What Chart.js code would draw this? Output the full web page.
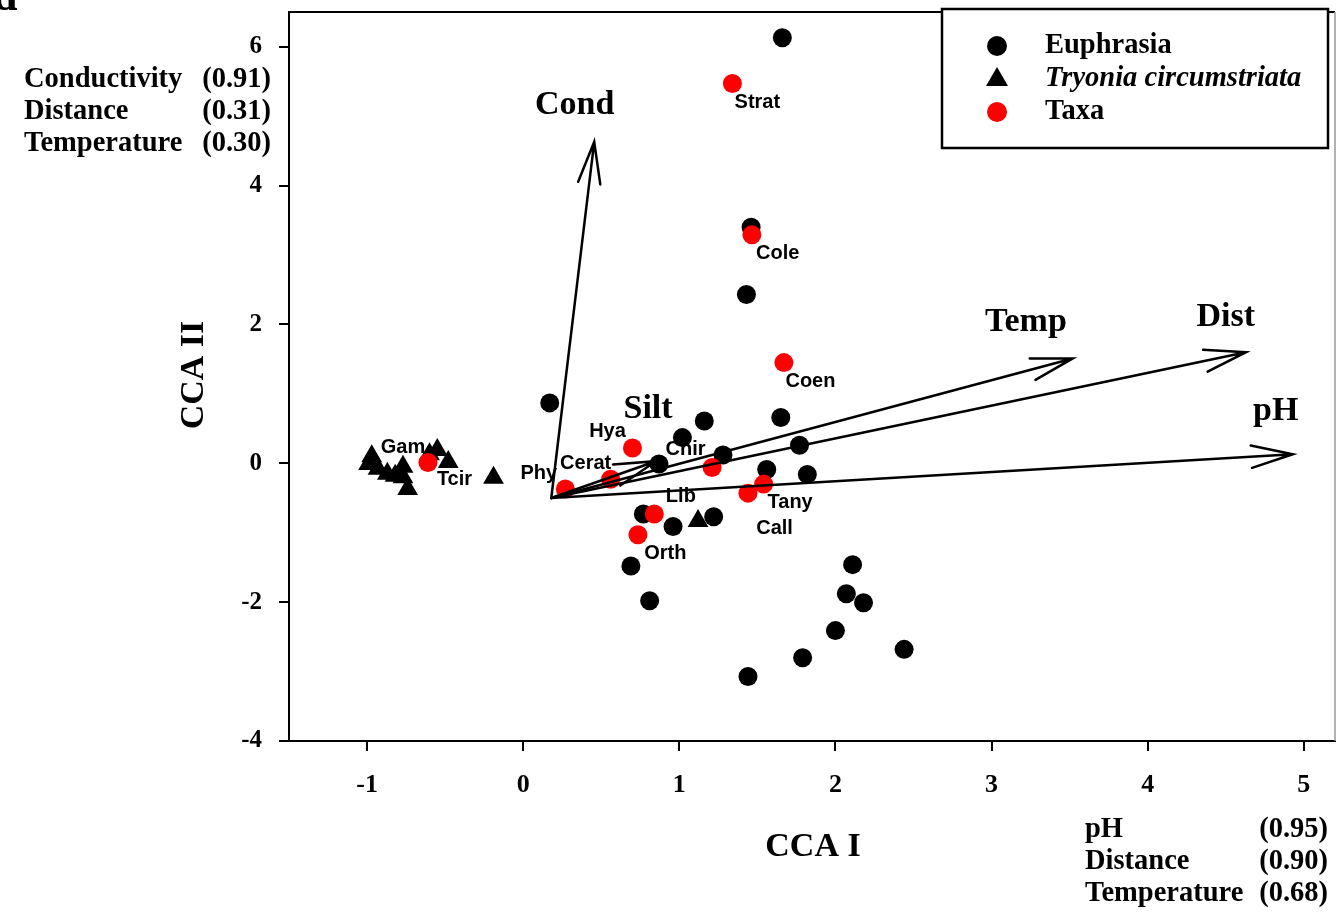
<!DOCTYPE html>
<html>
<head>
<meta charset="utf-8">
<script src="https://cdn.jsdelivr.net/npm/chart.js@4.4.1/dist/chart.umd.min.js"></script>
<style>
  html, body { margin: 0; padding: 0; background: #fff; }
  #wrap { width: 1337px; height: 914px; }
</style>
</head>
<body>
<div id="wrap"><canvas id="chart" width="1337" height="914"></canvas></div>
<script>
// site scores, Euphrasia
const euphrasiaX = [1.66, 1.46, 1.43, 0.17, 1.16, 1.65, 1.02, 1.77, 0.87, 1.28, 1.56, 1.82,
  0.77, 0.96, 1.22, 0.69, 0.81, 2.11, 2.07, 2.18, 2.00, 2.44, 1.79, 1.44];
const euphrasiaY = [6.13, 3.40, 2.43, 0.87, 0.61, 0.66, 0.37, 0.26, -0.01, 0.12, -0.09, -0.16,
  -0.73, -0.91, -0.77, -1.48, -1.98, -1.46, -1.88, -2.01, -2.41, -2.68, -2.80, -3.07];

// site scores, Tryonia circumstriata
const tryoniaX = [-0.97, -0.99, -0.93, -0.87, -0.82, -0.77, -0.77, -0.74, -0.55, -0.60, -0.48, -0.19, 1.12];
const tryoniaY = [0.10, -0.01, -0.08, -0.15, -0.18, -0.05, -0.20, -0.37, 0.19, 0.13, 0.02, -0.21, -0.83];

// taxa scores
const taxaX = [1.34, 1.465, 1.67, 0.70, 1.21, 0.56, 0.27, 0.84, 1.54, 1.44, 0.735, -0.61];
const taxaY = [5.47, 3.29, 1.45, 0.22, -0.06, -0.23, -0.37, -0.73, -0.30, -0.43, -1.03, 0.01];

// taxa name labels
const taxaLabelText = ['Strat', 'Cole', 'Coen', 'Hya', 'Chir', 'Cerat', 'Phy', 'Lib', 'Tany', 'Call', 'Orth', 'Gam', 'Tcir'];
const taxaLabelX = [1.50, 1.63, 1.84, 0.54, 1.04, 0.40, 0.10, 1.01, 1.71, 1.61, 0.91, -0.77, -0.44];
const taxaLabelY = [5.20, 3.02, 1.18, 0.46, 0.20, 0.00, -0.14, -0.48, -0.57, -0.94, -1.30, 0.23, -0.23];

// environmental vectors
const arrowOrigin = [0.18, -0.50];
const envNames = ['Cond', 'Temp', 'Dist', 'pH', 'Silt'];
const envX = [0.455, 3.52, 4.63, 4.93, 0.85];
const envY = [4.63, 1.51, 1.60, 0.13, 0.03];
const envLabelX = [0.33, 3.22, 4.50, 4.82, 0.80];
const envLabelY = [5.16, 2.03, 2.10, 0.75, 0.78];

// axes
const xTicks = [-1, 0, 1, 2, 3, 4, 5];
const yTicks = [-4, -2, 0, 2, 4, 6];

// axis correlations
const axis2Vars = ['Conductivity', 'Distance', 'Temperature'];
const axis2Vals = ['(0.91)', '(0.31)', '(0.30)'];
const axis1Vars = ['pH', 'Distance', 'Temperature'];
const axis1Vals = ['(0.95)', '(0.90)', '(0.68)'];

const serif = '"Liberation Serif", "Times New Roman", serif';
const sans = '"Liberation Sans", Arial, sans-serif';

const PLOT_RIGHT = 1335;

const toPoints = (xs, ys) => xs.map((x, i) => ({ x: x, y: ys[i] }));

const overlay = {
  id: 'overlay',
  afterLayout(chart) {
    // stretch the plot to the right edge of the frame
    const area = chart.chartArea;
    area.right = PLOT_RIGHT;
    area.width = area.right - area.left;
    const xs = chart.scales.x;
    xs.right = PLOT_RIGHT;
    xs.width = xs.right - xs.left;
    xs.configure();
  },
  afterDatasetsDraw(chart) {
    const ctx = chart.ctx;
    const xs = chart.scales.x, ys = chart.scales.y;
    ctx.save();
    // vectors
    ctx.strokeStyle = '#000';
    ctx.lineWidth = 2.5;
    ctx.lineCap = 'round';
    const ox = xs.getPixelForValue(arrowOrigin[0]);
    const oy = ys.getPixelForValue(arrowOrigin[1]);
    envNames.forEach((n, i) => {
      const tx = xs.getPixelForValue(envX[i]);
      const ty = ys.getPixelForValue(envY[i]);
      const ang = Math.atan2(ty - oy, tx - ox);
      const L = 43, h = 15 * Math.PI / 180;
      ctx.beginPath();
      ctx.moveTo(ox, oy);
      ctx.lineTo(tx, ty);
      ctx.moveTo(tx - L * Math.cos(ang + h), ty - L * Math.sin(ang + h));
      ctx.lineTo(tx, ty);
      ctx.lineTo(tx - L * Math.cos(ang - h), ty - L * Math.sin(ang - h));
      ctx.stroke();
    });
    ctx.fillStyle = '#000';
    ctx.textAlign = 'center';
    ctx.textBaseline = 'middle';
    ctx.font = 'bold 34px ' + serif;
    envNames.forEach((n, i) => {
      ctx.fillText(n, xs.getPixelForValue(envLabelX[i]), ys.getPixelForValue(envLabelY[i]));
    });
    ctx.font = 'bold 20px ' + sans;
    taxaLabelText.forEach((t, i) => {
      ctx.fillText(t, xs.getPixelForValue(taxaLabelX[i]), ys.getPixelForValue(taxaLabelY[i]));
    });
    ctx.restore();
  },
  afterDraw(chart) {
    const ctx = chart.ctx;
    const a = chart.chartArea;
    ctx.save();
    // frame top and right
    ctx.strokeStyle = '#000';
    ctx.lineWidth = 2;
    ctx.beginPath();
    ctx.moveTo(a.left, a.top);
    ctx.lineTo(a.right, a.top);
    ctx.moveTo(a.left, a.bottom);
    ctx.lineTo(a.right, a.bottom);
    ctx.stroke();
    ctx.strokeStyle = '#999';
    ctx.lineWidth = 1.5;
    ctx.beginPath();
    ctx.moveTo(a.right, a.top);
    ctx.lineTo(a.right, a.bottom);
    ctx.stroke();

    // legend
    ctx.fillStyle = '#fff';
    ctx.fillRect(942, 9, 386, 139);
    ctx.strokeStyle = '#000';
    ctx.lineWidth = 2.5;
    ctx.strokeRect(942, 9, 386, 139);
    ctx.fillStyle = '#000';
    ctx.beginPath(); ctx.arc(997, 46, 10, 0, Math.PI * 2); ctx.fill();
    ctx.beginPath();
    ctx.moveTo(997, 67); ctx.lineTo(1008, 86); ctx.lineTo(986, 86); ctx.closePath(); ctx.fill();
    ctx.fillStyle = '#ff0000';
    ctx.beginPath(); ctx.arc(997, 112, 10, 0, Math.PI * 2); ctx.fill();
    ctx.fillStyle = '#000';
    ctx.textAlign = 'left';
    ctx.textBaseline = 'middle';
    ctx.font = 'bold 28.5px ' + serif;
    ctx.fillText('Euphrasia', 1045, 46);
    ctx.fillText('Taxa', 1045, 112);
    ctx.font = 'italic bold 28.5px ' + serif;
    ctx.fillText('Tryonia circumstriata', 1045, 79);

    // correlation text
    ctx.font = 'bold 28.5px ' + serif;
    axis2Vars.forEach((v, i) => {
      ctx.textAlign = 'left';
      ctx.fillText(v, 24, 80 + i * 32);
      ctx.textAlign = 'right';
      ctx.fillText(axis2Vals[i], 271, 80 + i * 32);
    });
    axis1Vars.forEach((v, i) => {
      ctx.textAlign = 'left';
      ctx.fillText(v, 1085, 830 + i * 32);
      ctx.textAlign = 'right';
      ctx.fillText(axis1Vals[i], 1328, 830 + i * 32);
    });

    // axis titles
    ctx.font = 'bold 34px ' + serif;
    ctx.textAlign = 'center';
    ctx.fillText('CCA I', 813, 847);
    ctx.save();
    ctx.translate(194, 375);
    ctx.rotate(-Math.PI / 2);
    ctx.fillText('CCA II', 0, 0);
    ctx.restore();

    // panel letter, cut by the page edge
    ctx.textAlign = 'left';
    ctx.textBaseline = 'alphabetic';
    ctx.font = 'bold 44px ' + serif;
    ctx.fillText('d', -7, 10);
    ctx.restore();
  }
};

const noPad = (s) => { s.paddingTop = 0; s.paddingBottom = 0; s.paddingLeft = 0; s.paddingRight = 0; };

const axisCommon = {
  type: 'linear',
  grid: { drawOnChartArea: false, drawTicks: true, tickLength: 10, color: '#000', lineWidth: 2 },
  border: { display: true, color: '#000', width: 2 },
  title: { display: false }
};

new Chart(document.getElementById('chart'), {
  type: 'scatter',
  data: {
    datasets: [
      {
        label: 'Euphrasia',
        data: toPoints(euphrasiaX, euphrasiaY),
        pointStyle: 'circle',
        pointRadius: 9.5,
        backgroundColor: '#000',
        borderColor: '#000',
        borderWidth: 0,
        order: 3
      },
      {
        label: 'Tryonia circumstriata',
        data: toPoints(tryoniaX, tryoniaY),
        pointStyle: 'triangle',
        pointRadius: 12,
        backgroundColor: '#000',
        borderColor: '#000',
        borderWidth: 0,
        order: 2
      },
      {
        label: 'Taxa',
        data: toPoints(taxaX, taxaY),
        pointStyle: 'circle',
        pointRadius: 9.5,
        backgroundColor: '#ff0000',
        borderColor: '#ff0000',
        borderWidth: 0,
        order: 1
      }
    ]
  },
  options: {
    responsive: false,
    animation: false,
    layout: { padding: { top: 10, right: 2, left: 0, bottom: 0 } },
    plugins: { legend: { display: false }, tooltip: { enabled: false } },
    scales: {
      x: Object.assign({}, axisCommon, {
        min: -1.5, max: 5.2,
        afterBuildTicks: (s) => { s.ticks = xTicks.map(v => ({ value: v })); },
        afterFit: (s) => { s.height = 173; noPad(s); },
        ticks: { color: '#000', padding: 19, font: { family: serif, weight: 'bold', size: 26 }, callback: v => String(v) }
      }),
      y: Object.assign({}, axisCommon, {
        min: -4, max: 6.5,
        afterBuildTicks: (s) => { s.ticks = yTicks.map(v => ({ value: v })); },
        afterFit: (s) => { s.width = 289; noPad(s); },
        ticks: { color: '#000', padding: 17, font: { family: serif, weight: 'bold', size: 25 }, callback: v => String(v) }
      })
    }
  },
  plugins: [overlay]
});
</script>
</body>
</html>
